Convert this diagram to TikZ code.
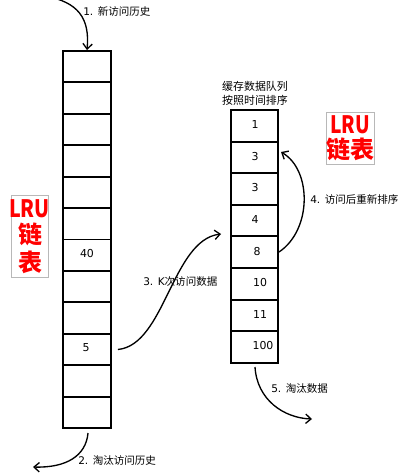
\documentclass[tikz,border=0pt]{standalone}
\usepackage{fontspec}
\setmainfont{DejaVu Sans}
\newfontfamily\cjk{Noto Sans CJK SC}
\usetikzlibrary{arrows.meta}
\newcommand{\lbl}[2]{#1{\cjk #2}}
\tikzset{
  cell/.style={draw=black, line width=1.4pt, minimum width=36pt, minimum height=23.6pt, inner sep=0pt},
  rcell/.style={draw=black, line width=1.4pt, minimum width=35.5pt, minimum height=23.7pt, inner sep=0pt},
  num/.style={font=\fontsize{8.2}{10}\selectfont, inner sep=0pt},
  lab/.style={font=\fontsize{7.9}{10}\selectfont, anchor=west, inner sep=0pt},
  flow/.style={line width=1pt, -{Straight Barb[length=4pt,width=7pt,line width=1pt]}},
  lrubox/.style={draw=black!28, line width=0.6pt},
  lrutext/.style={text=red, font=\cjk\bfseries\fontsize{18}{20}\selectfont, inner sep=0pt},
}
\begin{document}
\begin{tikzpicture}[x=0.75pt,y=-0.75pt]
\useasboundingbox (0,0) rectangle (400,474);
% left column
\foreach \i in {1,...,12} {
  \node[cell] (L\i) at (87, {51+31.42*(\i-0.5)}) {};
}
\node[num] (n40) at (87,254) {40};
\node[num] (n5) at (86,348) {5};
% right column
\foreach \i/\v/\dx in {1/1/0,2/3/0,3/3/0,4/4/0,5/8/2,6/10/5,7/11/5,8/100/8} {
  \node[rcell] (R\i) at (254.5, {110+31.6*(\i-0.5)}) {};
  \node[num] (v\i) at (255+\dx, {110+31.6*(\i-0.5)-1}) {\v};
}
% title
\node[font=\cjk\fontsize{8.2}{10.5}\selectfont, align=center, inner sep=0pt] (title) at (255,93.5) {缓存数据队列\\按照时间排序};
% LRU labels
\draw[lrubox] (11,195) rectangle (48,277);
\node[lrutext] (lruL1) at (29.5,208.5) {\scalebox{0.82}[1]{LRU}};
\node[lrutext] (lruL2) at (30,234) {链};
\node[lrutext] (lruL3) at (30,262) {表};
\draw[lrubox] (326,112) rectangle (374,164);
\node[lrutext] (lruR1) at (350,125) {\scalebox{0.8}[1]{LRU}};
\node[lrutext] (lruR2) at (350,149) {链表};
% arrows
\coordinate (s1) at (45,-4);
\draw[flow] (s1) .. controls (78,2) and (90,18) .. (L1.north);
\coordinate (e2) at (33,467);
\draw[flow] ([xshift=0.75pt,yshift=-3pt]L12.south) .. controls (86,456) and (66,468) .. (e2);
\coordinate (e3) at (221,234);
\draw[flow] ([xshift=4.5pt]L10.east) .. controls (165,345) and (172,240) .. (e3);
\coordinate (s4) at (279,252);
\coordinate (e4) at (281,152);
\draw[flow] (s4) .. controls (312,230) and (312,170) .. (e4);
\coordinate (s5) at (255,367);
\coordinate (e5) at (312,419);
\draw[flow] (s5) .. controls (257,400) and (284,418) .. (e5);
% labels
\node[lab] (t1) at (83,11) {\lbl{1. }{新访问历史}};
\node[lab] (t2) at (78,460) {\lbl{2. }{淘汰访问历史}};
\node[lab] (t3) at (143,282) {\lbl{3. K}{次访问数据}};
\node[lab] (t4) at (310,199) {\lbl{4. }{访问后重新排序}};
\node[lab] (t5) at (271,389) {\lbl{5. }{淘汰数据}};
\end{tikzpicture}
\end{document}
